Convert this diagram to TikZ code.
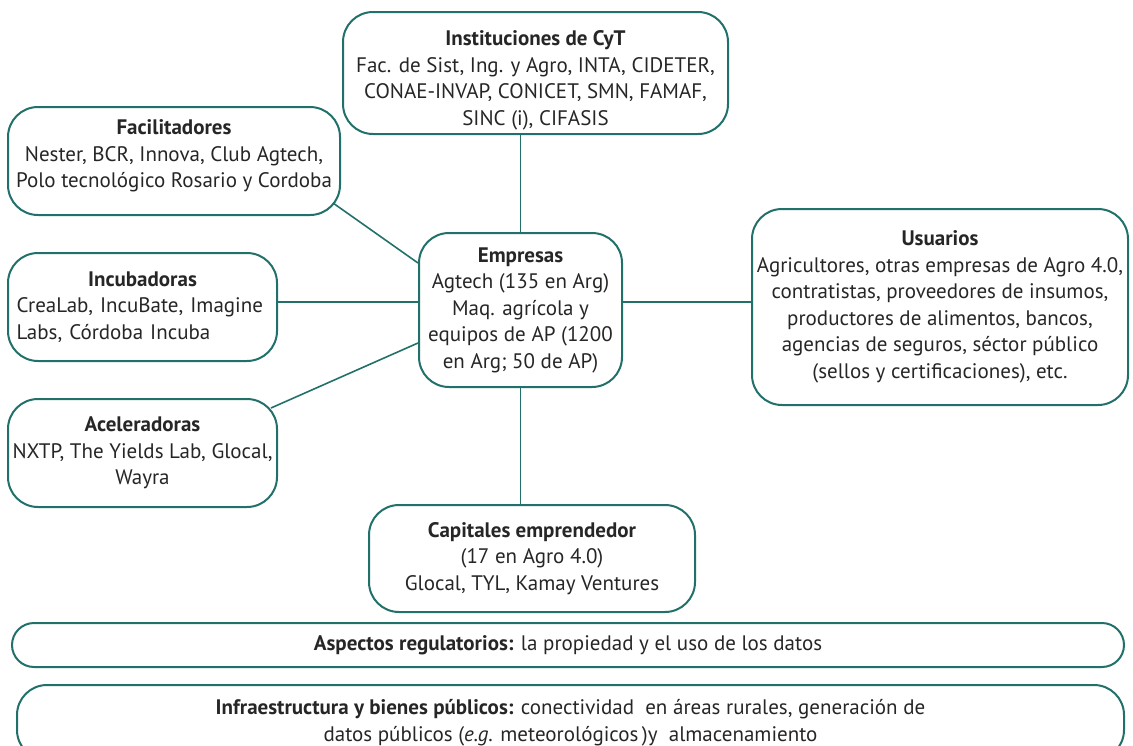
\documentclass[tikz,border=0pt]{standalone}
\usepackage{fontspec}
\setmainfont{PT Sans}
\usepackage{tikz}
\usetikzlibrary{positioning}
\definecolor{Teal}{HTML}{22706A}
\definecolor{Ink}{HTML}{262626}

\tikzset{
  actor/.style={draw=Teal,line width=2pt,rounded corners=30pt,align=center,
    inner sep=0pt,text=Ink,font=\fontsize{21}{26.5}\selectfont},
  link/.style={draw=Teal,line width=1.6pt}
}

\begin{document}
\begin{tikzpicture}[x=1pt,y=-1pt]
  \useasboundingbox (0,0) rectangle (1133,745);
  % actores del ecosistema
  \node[actor,minimum width=385,minimum height=122] (inst) at (535.5,73)
    {\rule{0pt}{30pt}\textbf{Instituciones de CyT}\\Fac. de Sist, Ing. y Agro, INTA, CIDETER,\\CONAE-INVAP, CONICET, SMN, FAMAF,\\SINC (i), CIFASIS};
  \node[actor,minimum width=332,minimum height=108] (facil) at (174,161)
    {\textbf{Facilitadores}\\Nester, BCR, Innova, Club Agtech,\\Polo tecnológico Rosario y Cordoba\\[-12pt]};
  \node[actor,minimum width=269,minimum height=108,align=left,text width=252] (incub) at (142.5,307)
    {\makebox[252pt]{\textbf{Incubadoras}}\\CreaLab, IncuBate, Imagine\\Labs, Córdoba Incuba};
  \node[actor,minimum width=269,minimum height=108] (acel) at (142.5,453)
    {\textbf{Aceleradoras}\\NXTP, The Yields Lab, Glocal,\\Wayra};
  \node[actor,minimum width=203,minimum height=154] (emp) at (520.5,310)
    {\textbf{Empresas}\\Agtech (135 en Arg)\\Maq. agrícola y\\equipos de AP (1200\\en Arg; 50 de AP)};
  \node[actor,minimum width=376,minimum height=196] (usu) at (940,307)
    {\textbf{Usuarios}\\Agricultores, otras empresas de Agro 4.0,\\contratistas, proveedores de insumos,\\productores de alimentos, bancos,\\agencias de seguros, séctor público\\(sellos y certificaciones), etc.};
  \node[actor,minimum width=326,minimum height=107] (cap) at (532,558.5)
    {\textbf{Capitales emprendedor}\\(17 en Agro 4.0)\\Glocal, TYL, Kamay Ventures};
  % marco general
  \node[actor,rounded corners=22pt,minimum width=1112,minimum height=44] (reg) at (568,645)
    {\textbf{Aspectos regulatorios:} la propiedad y el uso de los datos};
  \node[actor,minimum width=1107,minimum height=75,anchor=north] (infra) at (570.5,684)
    {\textbf{Infraestructura y bienes públicos:} conectividad\ \ en áreas rurales, generación de\\datos públicos (\textit{e.g.} meteorológicos\,)y\ \ almacenamiento};
  % conexiones
  \draw[link] (inst.south -| emp.north) -- (emp.north);
  \draw[link] (facil.south east) ++(-8,-13) coordinate (f1) -- (emp.west |- 0,263);
  \draw[link] (incub.east |- 0,302) -- (emp.west |- 0,302);
  \draw[link] (emp.east |- 0,302) -- (usu.west |- 0,302);
  \draw[link] (acel.north east) ++(-7,10) coordinate (a1) -- (emp.west |- 0,343);
  \draw[link] (emp.south) -- (cap.north -| emp.south);
\end{tikzpicture}
\end{document}
